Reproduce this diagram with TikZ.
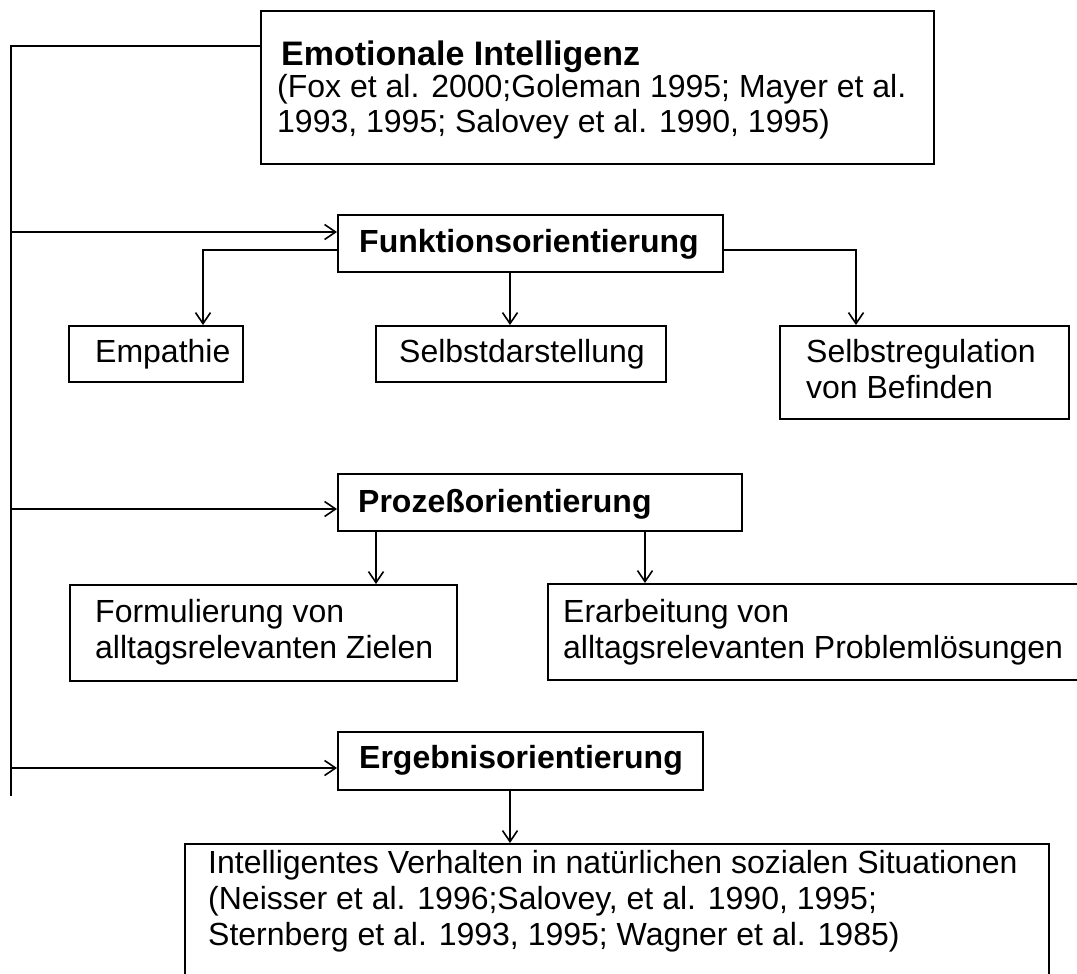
\documentclass[tikz,border=0pt]{standalone}
\usepackage{fontspec}
\setmainfont{Liberation Sans}
\usetikzlibrary{arrows.meta,calc}
\begin{document}
\begin{tikzpicture}[x=1pt,y=-1pt,
  box/.style={draw,line width=2pt,rectangle,inner sep=0pt,anchor=north west},
  link/.style={line width=2pt},
  arr/.style={line width=2pt,-{Straight Barb[length=11pt,width=15pt,line width=1.6pt]}},
  txt/.style={anchor=base west,inner sep=0pt,font=\fontsize{32}{36}\selectfont},
  bold/.style={anchor=base west,inner sep=0pt,font=\fontsize{32}{36}\selectfont\bfseries},
  title/.style={anchor=base west,inner sep=0pt,font=\fontsize{34}{40}\selectfont\bfseries}]
\useasboundingbox (0,0) rectangle (1077,974);
\clip (0,0) rectangle (1077,974);

% boxes
\node[box,minimum width=673pt,minimum height=153pt] (emo)   at (260,10)  {};
\node[box,minimum width=385pt,minimum height=57pt]  (funk)  at (337,214) {};
\node[box,minimum width=174pt,minimum height=56pt]  (emp)   at (68,325)  {};
\node[box,minimum width=290pt,minimum height=56pt]  (sd)    at (375,325) {};
\node[box,minimum width=289pt,minimum height=93pt]  (sr)    at (779,325) {};
\node[box,minimum width=404pt,minimum height=57pt]  (proz)  at (337,473) {};
\node[box,minimum width=387pt,minimum height=96pt]  (form)  at (69,584)  {};
\node[box,minimum width=548pt,minimum height=96pt]  (erar)  at (547,583) {};
\node[box,minimum width=365pt,minimum height=58pt]  (erg)   at (337,731) {};
\node[box,minimum width=864pt,minimum height=160pt] (intel) at (184,843) {};

% texts
\node[title] (tEmo) at (281,66) {Emotionale Intelligenz};
\node[txt] (tEmo2) at (277,97) {(Fox et al. 2000;Goleman 1995; Mayer et al.};
\node[txt] (tEmo3) at (277,132) {1993, 1995; Salovey et al. 1990, 1995)};
\node[bold] (tFunk) at (359,252) {Funktionsorientierung};
\node[txt] (tEmp) at (95,362) {Empathie};
\node[txt] (tSd) at (399,362) {Selbstdarstellung};
\node[txt] (tSr1) at (806,362) {Selbstregulation};
\node[txt] (tSr2) at (806,398) {von Befinden};
\node[bold] (tProz) at (358,512) {Prozeßorientierung};
\node[txt] (tForm1) at (95,622) {Formulierung von};
\node[txt] (tForm2) at (95,658) {alltagsrelevanten Zielen};
\node[txt] (tErar1) at (563,622) {Erarbeitung von};
\node[txt] (tErar2) at (563,658) {alltagsrelevanten Problemlösungen};
\node[bold] (tErg) at (359,768) {Ergebnisorientierung};
\node[txt] (tInt1) at (208,873) {Intelligentes Verhalten in natürlichen sozialen Situationen};
\node[txt] (tInt2) at (208,909) {(Neisser et al. 1996;Salovey, et al. 1990, 1995;};
\node[txt] (tInt3) at (208,945) {Sternberg et al. 1993, 1995; Wagner et al. 1985)};

% left trunk line
\coordinate (trunk) at (11,46);
\coordinate (trunkEnd) at (11,796);
\draw[link] ($(emo.north west)+(0,36)$) -- (trunk) -- (trunkEnd);

% branches from the trunk
\coordinate (funkIn) at ($(funk.north west)+(0,18)$);
\coordinate (prozIn) at ($(proz.north west)+(0,36)$);
\coordinate (ergIn)  at ($(erg.north west)+(0,37)$);
\draw[arr] (trunk |- funkIn) -- (funkIn);
\draw[arr] (trunk |- prozIn) -- (prozIn);
\draw[arr] (trunk |- ergIn) -- (ergIn);

% function orientation children
\coordinate (funkL) at ($(funk.north west)+(0,36)$);
\coordinate (funkR) at ($(funk.north east)+(0,36)$);
\coordinate (empIn) at ($(emp.north west)+(135,0)$);
\coordinate (sdIn)  at ($(sd.north west)+(135,0)$);
\coordinate (srIn)  at ($(sr.north west)+(77,0)$);
\draw[arr] (funkL) -| (empIn);
\draw[arr] (funk.south -| sdIn) -- (sdIn);
\draw[arr] (funkR) -| (srIn);

% process orientation children
\coordinate (formIn) at ($(form.north west)+(307,0)$);
\coordinate (erarIn) at ($(erar.north west)+(98,0)$);
\draw[arr] (proz.south -| formIn) -- (formIn);
\draw[arr] (proz.south -| erarIn) -- (erarIn);

% result orientation child
\coordinate (intelIn) at ($(intel.north west)+(326,0)$);
\draw[arr] (erg.south -| intelIn) -- (intelIn);
\end{tikzpicture}
\end{document}
